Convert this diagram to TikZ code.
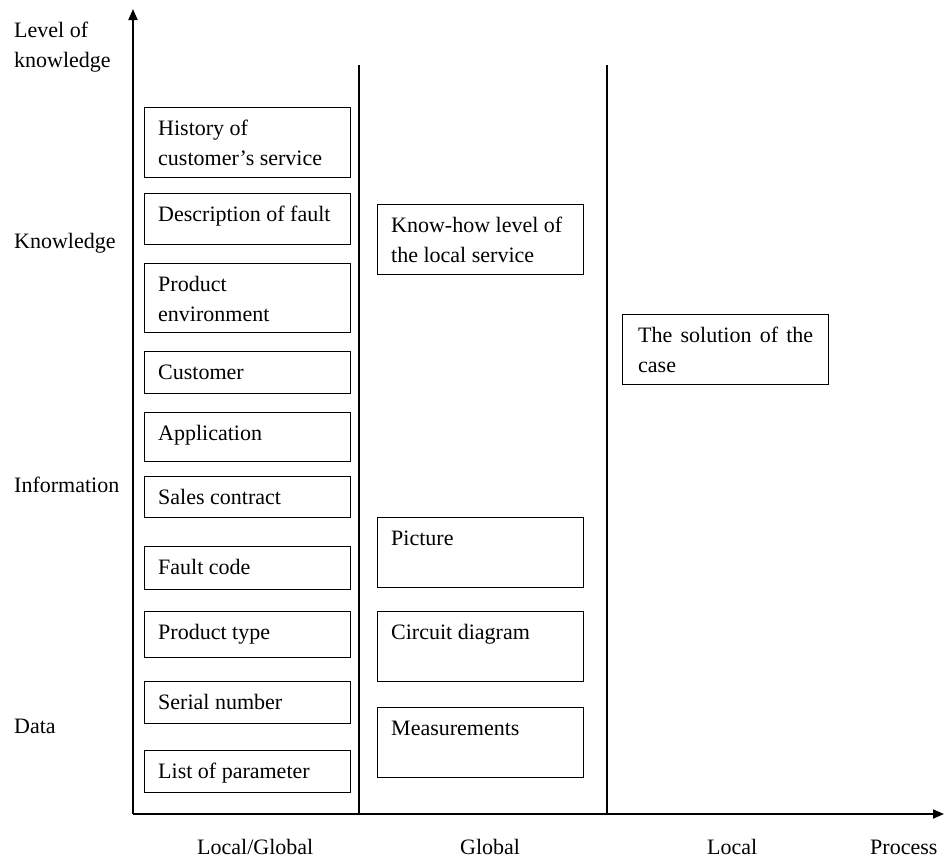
\documentclass[tikz,border=0pt]{standalone}
\usepackage{fontspec}
\setmainfont{Liberation Serif}
\usetikzlibrary{calc,arrows.meta}
\begin{document}
\begin{tikzpicture}[x=1pt,y=-1pt,
  txt/.style={font=\fontsize{22pt}{30pt}\selectfont, inner sep=0pt, align=left},
  btxt/.style={txt, text width=190pt, align=flush left},
  box/.style={draw, line width=1.3pt, inner sep=0pt, anchor=north west},
  axis/.style={line width=1.8pt, -{Triangle[length=11pt,width=9pt]}},
  divider/.style={line width=1.2pt}]
\useasboundingbox (0,0) rectangle (944,860);

% axes
\coordinate (origin) at (133,814);
\coordinate (ytop) at (133,9);
\coordinate (xend) at (944,814);
\draw[axis] (origin) -- (ytop);
\draw[axis] (origin) -- (xend);

% column dividers
\coordinate (d1top) at (359,65);
\coordinate (d1bot) at (359,814);
\coordinate (d2top) at (607,65);
\coordinate (d2bot) at (607,814);
\draw[divider] (d1top) -- (d1bot);
\draw[divider] (d2top) -- (d2bot);

% box with top-left aligned text: name, x, y, width, height, text
\newcommand\infobox[6]{%
  \node[box, minimum width=#4pt, minimum height=#5pt] (#1) at (#2,#3) {};
  \node[btxt, anchor=base west] (#1-t) at ($(#1.north west)+(14,28)$) {#6};
}

% local/global column
\infobox{hist}{144}{107}{206}{70}{History of\\customer’s service}
\infobox{desc}{144}{193}{206}{51}{Description of fault}
\infobox{env}{144}{263}{206}{69}{Product\\environment}
\infobox{cust}{144}{351}{206}{42}{Customer}
\infobox{appl}{144}{412}{206}{49}{Application}
\infobox{sales}{144}{476}{206}{41}{Sales contract}
\infobox{fcode}{144}{546}{206}{43}{Fault code}
\infobox{ptype}{144}{611}{206}{46}{Product type}
\infobox{serial}{144}{681}{206}{42}{Serial number}
\infobox{param}{144}{750}{206}{42}{List of parameter}

% global column
\infobox{knowhow}{377}{204}{206}{70}{Know-how level of\\the local service}
\infobox{pict}{377}{517}{206}{70}{Picture}
\infobox{circ}{377}{611}{206}{70}{Circuit diagram}
\infobox{meas}{377}{707}{206}{70}{Measurements}

% local column
\node[box, minimum width=206pt, minimum height=70pt] (sol) at (622,314) {};
\node[txt, anchor=base west, text width=175pt, align=justify] (sol-t)
  at ($(sol.north west)+(16,28)$) {The solution of the case};

% level labels
\node[btxt, text width=120pt, anchor=base west] (lvl) at (14,37) {Level of\\knowledge};
\node[txt, anchor=base west] (lknow) at (14,248) {Knowledge};
\node[txt, anchor=base west] (linfo) at (14,492) {Information};
\node[txt, anchor=base west] (ldata) at (14,733) {Data};

% category labels
\node[txt, anchor=base west] (clg) at (197,854) {Local/Global};
\node[txt, anchor=base west] (cg) at (460,854) {Global};
\node[txt, anchor=base west] (cl) at (707,854) {Local};
\node[txt, anchor=base west] (cp) at (870,854) {Process};
\end{tikzpicture}
\end{document}
